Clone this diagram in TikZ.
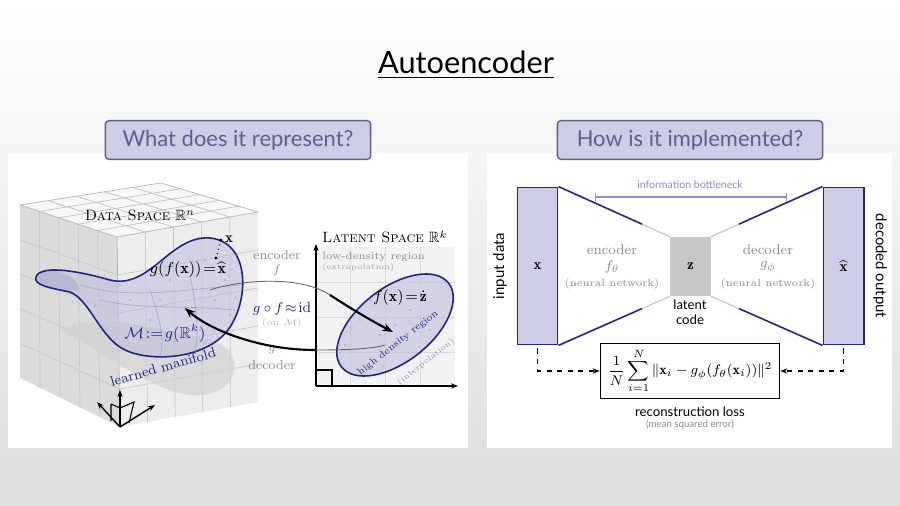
\documentclass[tikz,border=0pt]{standalone}
\usepackage{amsmath,amssymb}
\usepackage{fontspec}
\newfontfamily\hsf{Lato}
\usetikzlibrary{arrows.meta,calc}
\definecolor{lav}{RGB}{205,205,232}
\definecolor{navy}{RGB}{35,35,130}
\definecolor{hdr}{RGB}{95,95,140}
\definecolor{txg}{RGB}{140,140,140}
\definecolor{lblue}{RGB}{140,140,200}
\tikzset{
  hbox/.style={draw=hdr,fill=lav,rounded corners=2pt,line width=0.8pt,minimum width=151pt,minimum height=22pt,font=\hsf\fontsize{12.5}{14}\selectfont,text=hdr},
  panel/.style={fill=white,draw=none},
  gtxt/.style={text=txg,font=\fontsize{7.5}{9}\selectfont},
  stxt/.style={text=txg!80,font=\fontsize{5}{6}\selectfont},
  col/.style={draw=navy,fill=lav,line width=0.9pt},
  big/.style={-{Stealth[length=6pt]},line width=1.2pt},
  dsh/.style={dashed,-{Stealth[length=4pt]},line width=0.7pt}
}
\begin{document}
\begin{tikzpicture}[x=0.02cm,y=-0.02cm]
\useasboundingbox (0,0) rectangle (900,506);
\shade[top color=white,bottom color=black!12] (0,0) rectangle (900,455);
\fill[black!13] (0,455) rectangle (900,506);
\node[font=\hsf\fontsize{17.5}{20}\selectfont] (title) at (466,65) {\underline{Autoencoder}};
% panels
\fill[panel] (8,153) rectangle (468,448);
\fill[panel] (487,153) rectangle (892,448);
\node[hbox] (h1) at (238,140) {What does it represent?};
\node[hbox] (h2) at (690,140) {How is it implemented?};
% ---------- cube ----------
\coordinate (L) at (20,205); \coordinate (F) at (117,237); \coordinate (R) at (258,212); \coordinate (B) at (161,183);
\coordinate (LB) at (20,378); \coordinate (FB) at (120,427); \coordinate (RB) at (258,402);
\fill[black!14] (L)--(F)--(FB)--(LB)--cycle;
\fill[black!7] (F)--(R)--(RB)--(FB)--cycle;
\fill[black!3] (L)--(B)--(R)--(F)--cycle;
\foreach \t in {0.2,0.4,0.6,0.8}{
  \draw[black!22,line width=0.4pt] ($(L)!\t!(F)$)--($(LB)!\t!(FB)$);
  \draw[black!22,line width=0.4pt] ($(F)!\t!(R)$)--($(FB)!\t!(RB)$);
  \draw[black!22,line width=0.4pt] ($(L)!\t!(LB)$)--($(F)!\t!(FB)$)--($(R)!\t!(RB)$);
  \draw[black!25,line width=0.4pt] ($(L)!\t!(F)$)--($(B)!\t!(R)$);
  \draw[black!25,line width=0.4pt] ($(L)!\t!(B)$)--($(F)!\t!(R)$);
}
\draw[black!30,line width=0.4pt] (L)--(B)--(R)--(F)--cycle (F)--(FB);
% shadow
\fill[black!18,opacity=0.7] (60,330) .. controls (100,310) and (160,330) .. (210,340) .. controls (250,350) and (240,400) .. (190,395) .. controls (150,390) and (100,350) .. (60,330);
% manifold
\fill[navy!30,opacity=0.55] (36,277) .. controls (40,265) and (75,270) .. (110,280) .. controls (150,290) and (170,235) .. (210,238) .. controls (250,242) and (250,300) .. (228,330) .. controls (205,360) and (150,362) .. (125,350) .. controls (100,338) and (90,300) .. (70,292) .. controls (50,288) and (33,285) .. (36,277);
\fill[navy!40,opacity=0.5] (36,277) .. controls (40,265) and (75,270) .. (80,290) .. controls (60,292) and (35,288) .. (36,277);
\draw[navy,line width=0.9pt] (36,277) .. controls (40,265) and (75,270) .. (110,280) .. controls (150,290) and (170,235) .. (210,238) .. controls (250,242) and (250,300) .. (228,330) .. controls (205,360) and (150,362) .. (125,350) .. controls (100,338) and (90,300) .. (70,292) .. controls (50,288) and (33,285) .. (36,277);
\draw[navy!40,line width=0.4pt] (80,285) .. controls (130,300) and (180,290) .. (240,285);
\draw[navy!40,line width=0.4pt] (100,300) .. controls (140,310) and (190,305) .. (235,310);
\draw[navy!40,line width=0.4pt] (150,290) .. controls (160,320) and (165,340) .. (160,355);
\draw[navy!40,line width=0.4pt] (190,275) .. controls (195,300) and (200,330) .. (195,352);
\foreach \p in {(130,300),(150,320),(170,280),(185,310),(200,330),(215,300),(140,340),(175,342),(120,285),(205,260),(225,280),(160,300),(230,315),(95,305)}
  \fill[black!30] \p circle (1.2);
% axes at cube bottom
\coordinate (o) at (120,427);
\draw[-{Stealth[length=4pt]},line width=0.8pt] (o)--(120,390);
\draw[-{Stealth[length=4pt]},line width=0.8pt] (o)--(97,402);
\draw[-{Stealth[length=4pt]},line width=0.8pt] (o)--(155,405);
\draw[line width=0.6pt] (111,421)--(111,404) (111,404)--(120,408) (129,423)--(134,402)--(120,408);
% texts left
\node[font=\fontsize{8.5}{10}\selectfont] (ds) at (140,215) {\textsc{Data Space} $\mathbb{R}^n$};
\fill (221,240) circle (1.6); \fill (216,258) circle (1.6);
\draw[dotted,line width=0.6pt] (221,240)--(216,258);
\node[font=\fontsize{8.5}{10}\selectfont,anchor=west,inner sep=1pt] (xx) at (223,239) {$\mathbf{x}$};
\node[font=\fontsize{9}{10}\selectfont] (gfx) at (188,270) {$g(f(\mathbf{x}))\!=\!\widehat{\mathbf{x}}$};
\node[font=\fontsize{9}{10}\selectfont,text=navy] (M) at (165,333) {$\mathcal{M}\!:=\!g(\mathbb{R}^k)$};
\node[font=\fontsize{8}{9}\selectfont,text=navy,rotate=16] (lm) at (163,367) {learned manifold};
% middle
\node[gtxt] (enc) at (277,255) {encoder};
\node[gtxt] (encf) at (277,270) {$f$};
\node[font=\fontsize{8.5}{10}\selectfont,text=navy] (gof) at (282,309) {$g\circ f\!\approx\!\mathrm{id}$};
\node[stxt,text=lblue!70] (onM) at (282,323) {(on $\mathcal{M}$)};
\node[gtxt] (decg) at (272,350) {$g$};
\node[gtxt] (dec) at (272,365) {decoder};
% latent space
\fill[black!5] (316,247) rectangle (455,386);
\foreach \x in {350,385,420} \draw[black!15,line width=0.4pt] (\x,247)--(\x,386);
\foreach \y in {282,317,352} \draw[black!15,line width=0.4pt] (316,\y)--(455,\y);
\draw[-{Stealth[length=4pt]},line width=0.8pt] (316,386)--(316,244);
\draw[-{Stealth[length=4pt]},line width=0.8pt] (316,386)--(458,386);
\draw[line width=0.6pt] (316,370)--(332,370)--(332,386);
\node[font=\fontsize{8.5}{10}\selectfont] (ls) at (385,237) {\textsc{Latent Space} $\mathbb{R}^k$};
\node[gtxt,font=\fontsize{6}{7}\selectfont,anchor=west,inner sep=0pt] (ld) at (322,257) {low-density region};
\node[stxt,font=\fontsize{4.5}{5}\selectfont,anchor=west,inner sep=0pt] (ex) at (322,268) {(extrapolation)};
\fill[navy!30,opacity=0.6,rotate around={38:(395,325)}] (395,325) ellipse (68 and 37);
\draw[navy,line width=0.9pt,rotate around={38:(395,325)}] (395,325) ellipse (68 and 37);
\foreach \p in {(360,320),(380,335),(410,310),(430,330),(370,300),(395,325),(345,345)}
  \fill[black!30] \p circle (1.2);
\node[font=\fontsize{9}{10}\selectfont] (fx) at (400,298) {$f(\mathbf{x})\!=\!\dot{\mathbf{z}}$};
\node[font=\fontsize{5.5}{7}\selectfont,text=navy,rotate=38,inner sep=0pt] (hd) at (398,343) {high density region};
\node[font=\fontsize{4.5}{5}\selectfont,text=lblue,rotate=38,inner sep=0pt] (ip) at (426,362) {(interpolation)};
% big arrows
\coordinate (e1) at (210,290); \coordinate (e2) at (393,332);
\coordinate (d1) at (385,345); \coordinate (d2) at (185,308);
\draw[line width=0.5pt,black!60] (e1) .. controls (240,280) and (300,275) .. (330,295);
\draw[big] (330,295) .. controls (350,308) and (370,320) .. (e2);
\draw[line width=0.5pt,black!60] (d1) .. controls (370,350) and (330,350) .. (315,350);
\draw[big] (315,350) .. controls (260,350) and (210,330) .. (d2);
% ---------- right panel ----------
\node[col,minimum width=23pt,minimum height=89.5pt,inner sep=0pt,font=\fontsize{8.5}{10}\selectfont] (xin) at (537.5,266) {$\mathbf{x}$};
\node[col,minimum width=23pt,minimum height=89.5pt,inner sep=0pt,font=\fontsize{8.5}{10}\selectfont] (xout) at (843.5,266) {$\widehat{\mathbf{x}}$};
\node[fill=black!22,minimum width=23pt,minimum height=33.5pt,inner sep=0pt,font=\fontsize{8.5}{10}\selectfont] (z) at (690.5,266.5) {$\mathbf{z}$};
\draw[navy,line width=0.9pt] (xin.north east)--($(xin.north east)!0.75!(z.north west)$);
\draw[navy!30,line width=0.6pt] ($(xin.north east)!0.75!(z.north west)$)--(z.north west);
\draw[navy,line width=0.9pt] (xin.south east)--($(xin.south east)!0.75!(z.south west)$);
\draw[navy!30,line width=0.6pt] ($(xin.south east)!0.75!(z.south west)$)--(z.south west);
\draw[navy,line width=0.9pt] (xout.north west)--($(xout.north west)!0.75!(z.north east)$);
\draw[navy!30,line width=0.6pt] ($(xout.north west)!0.75!(z.north east)$)--(z.north east);
\draw[navy,line width=0.9pt] (xout.south west)--($(xout.south west)!0.75!(z.south east)$);
\draw[navy!30,line width=0.6pt] ($(xout.south west)!0.75!(z.south east)$)--(z.south east);
\coordinate (b1) at (595,197); \coordinate (b2) at (787,197);
\draw[lblue,line width=0.6pt,{Bar[width=5pt]}-{Bar[width=5pt]}] (b1)--(b2);
\node[text=lblue,font=\hsf\fontsize{6}{7}\selectfont] (ib) at (690,185) {information bottleneck};
\node[gtxt,font=\fontsize{8}{9}\selectfont] (en2) at (612,250) {encoder};
\node[gtxt,font=\fontsize{8}{9}\selectfont] (ef) at (612,267) {$f_\theta$};
\node[gtxt,font=\fontsize{6}{7}\selectfont] (nn1) at (612,284) {(neural network)};
\node[gtxt,font=\fontsize{8}{9}\selectfont] (de2) at (768,250) {decoder};
\node[gtxt,font=\fontsize{8}{9}\selectfont] (dg) at (768,267) {$g_\phi$};
\node[gtxt,font=\fontsize{6}{7}\selectfont] (nn2) at (768,284) {(neural network)};
\node[font=\hsf\fontsize{7.5}{8.5}\selectfont,align=center] (lc) at (690,312) {latent\\code};
\node[font=\hsf\fontsize{8.5}{10}\selectfont,rotate=90] (id) at (500,266) {input data};
\node[font=\hsf\fontsize{8.5}{10}\selectfont,rotate=-90] (do) at (880,266) {decoded output};
\node[draw,line width=0.8pt,minimum width=102pt,minimum height=31.5pt,inner sep=2pt,font=\fontsize{8}{9}\selectfont] (loss) at (690,371) {$\displaystyle \frac{1}{N}\sum_{i=1}^{N}\|\mathbf{x}_i-g_\phi(f_\theta(\mathbf{x}_i))\|^2$};
\node[font=\hsf\fontsize{7.5}{9}\selectfont] (rl) at (690,412) {reconstruction loss};
\node[text=txg,font=\hsf\fontsize{5.5}{7}\selectfont] (mse) at (690,425) {(mean squared error)};
\draw[dsh] (xin.south) ++(0,3) |- (loss.west);
\draw[dsh] (xout.south) ++(0,3) |- (loss.east);
\end{tikzpicture}
\end{document}
